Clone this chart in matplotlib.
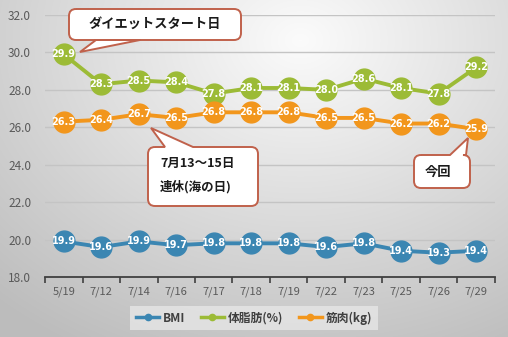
import numpy as np
import matplotlib
matplotlib.use("Agg")
import matplotlib.pyplot as plt
from matplotlib.path import Path
from matplotlib.patches import PathPatch

plt.rcParams['font.family'] = ['Noto Sans CJK JP', 'DejaVu Sans']

dates = ["5/19", "7/12", "7/14", "7/16", "7/17", "7/18", "7/19",
         "7/22", "7/23", "7/25", "7/26", "7/29"]
bmi = [19.9, 19.6, 19.9, 19.7, 19.8, 19.8, 19.8, 19.6, 19.8, 19.4, 19.3, 19.4]
body_fat = [29.9, 28.3, 28.5, 28.4, 27.8, 28.1, 28.1, 28.0, 28.6, 28.1, 27.8, 29.2]
muscle = [26.3, 26.4, 26.7, 26.5, 26.8, 26.8, 26.8, 26.5, 26.5, 26.2, 26.2, 25.9]

series = [("BMI", bmi, "#3b86b2"),
          ("体脂肪(%)", body_fat, "#9cbb36"),
          ("筋肉(kg)", muscle, "#f2961c")]

W, H = 508, 337
fig = plt.figure(figsize=(W / 100, H / 100), dpi=100)

# soft radial background
bg = fig.add_axes([0, 0, 1, 1], zorder=-2)
yy, xx = np.mgrid[0:H, 0:W]
r = np.hypot((xx - 300) / 420.0, (yy - 40) / 330.0)
shade = np.clip(0.985 - 0.23 * r, 0.74, 1.0)
bg.imshow(np.dstack([shade] * 3), extent=[0, W, H, 0], aspect="auto")
bg.set_xlim(0, W)
bg.set_ylim(H, 0)
bg.axis("off")

ax = fig.add_axes([45 / W, 60 / H, 450 / W, 262 / H])
ax.set_facecolor("none")
x = np.arange(len(dates))
for name, vals, color in series:
    ax.plot(x, vals, color=color, lw=2.8, marker="o", ms=15,
            mec=color, mfc=color, label=name, zorder=3)
    for xi, v in zip(x, vals):
        ax.text(xi, v, f"{v:.1f}", ha="center", va="center", color="white",
                fontsize=7, fontweight="bold", family="DejaVu Sans", zorder=4)

ax.set_xlim(-0.5, len(dates) - 0.5)
ax.set_ylim(18, 32)
ax.set_yticks(np.arange(18, 33, 2))
ax.set_yticklabels([f"{v:.1f}" for v in np.arange(18, 33, 2)])
ax.set_xticks(x)
ax.set_xticklabels(dates)
ax.set_xticks(np.arange(-0.5, len(dates), 1), minor=True)
ax.tick_params(axis="x", which="major", length=0, pad=7, labelsize=8, labelcolor="#595959")
ax.tick_params(axis="x", which="minor", length=4, width=1.2, color="#404040", direction="out")
ax.tick_params(axis="y", length=0, pad=10, labelsize=8.5, labelcolor="#595959")
ax.grid(axis="y", color="#c4c4c4", lw=1)
ax.set_axisbelow(True)
for s in ["top", "right", "left"]:
    ax.spines[s].set_visible(False)
ax.spines["bottom"].set_color("#404040")
ax.spines["bottom"].set_linewidth(1.3)

handles = [plt.Line2D([], [], color=c, lw=2.5, marker="o", ms=4.5) for _, _, c in series]
leg = fig.legend(handles, [n for n, _, _ in series], loc="center",
                 bbox_to_anchor=(254 / W, 1 - 318 / H), ncol=3, frameon=True,
                 fontsize=8.5, handlelength=2.0, columnspacing=1.3, handletextpad=0.3,
                 borderpad=0.45, fancybox=False)
leg.get_frame().set_facecolor("#e6e6e6")
leg.get_frame().set_edgecolor("none")
for t in leg.get_texts():
    t.set_color("#404040")
    t.set_fontweight("bold")

# callout balloons in pixel coordinates
ov = fig.add_axes([0, 0, 1, 1], zorder=5)
ov.set_xlim(0, W)
ov.set_ylim(H, 0)
ov.axis("off")


def balloon(x0, y0, x1, y1, tail, side, rad=7):
    (ta, tb), tip = tail[:2], tail[2]
    v = [(x0 + rad, y0)]
    c = [Path.MOVETO]
    if side == "top":
        v += [(ta, y0), tip, (tb, y0)]
        c += [Path.LINETO] * 3
    v += [(x1 - rad, y0), (x1, y0), (x1, y0 + rad), (x1, y1 - rad), (x1, y1), (x1 - rad, y1)]
    c += [Path.LINETO, Path.CURVE3, Path.CURVE3, Path.LINETO, Path.CURVE3, Path.CURVE3]
    if side == "bottom":
        v += [(tb, y1), tip, (ta, y1)]
        c += [Path.LINETO] * 3
    v += [(x0 + rad, y1), (x0, y1), (x0, y1 - rad), (x0, y0 + rad), (x0, y0), (x0 + rad, y0)]
    c += [Path.LINETO, Path.CURVE3, Path.CURVE3, Path.LINETO, Path.CURVE3, Path.CURVE3]
    ov.add_patch(PathPatch(Path(v, c), fc="white", ec="#c0614b", lw=1.4))


balloon(69, 9, 241, 40, (140, 96, (80, 52)), "bottom")
ov.text(155, 24, "ダイエットスタート日", ha="center", va="center",
        fontsize=9.5, fontweight="bold", color="#1a1a1a")

balloon(148, 147, 258, 206, (165, 193, (151, 128)), "top")
ov.text(160, 163, "7月13～15日", ha="left", va="center",
        fontsize=9, fontweight="bold", color="#1a1a1a")
ov.text(160, 187, "連休(海の日)", ha="left", va="center",
        fontsize=9, fontweight="bold", color="#1a1a1a")

balloon(414, 155, 470, 188, (450, 466, (468, 138)), "top")
ov.text(438, 172, "今回", ha="center", va="center",
        fontsize=9.5, fontweight="bold", color="#1a1a1a")

fig.savefig("out.png", dpi=100)
